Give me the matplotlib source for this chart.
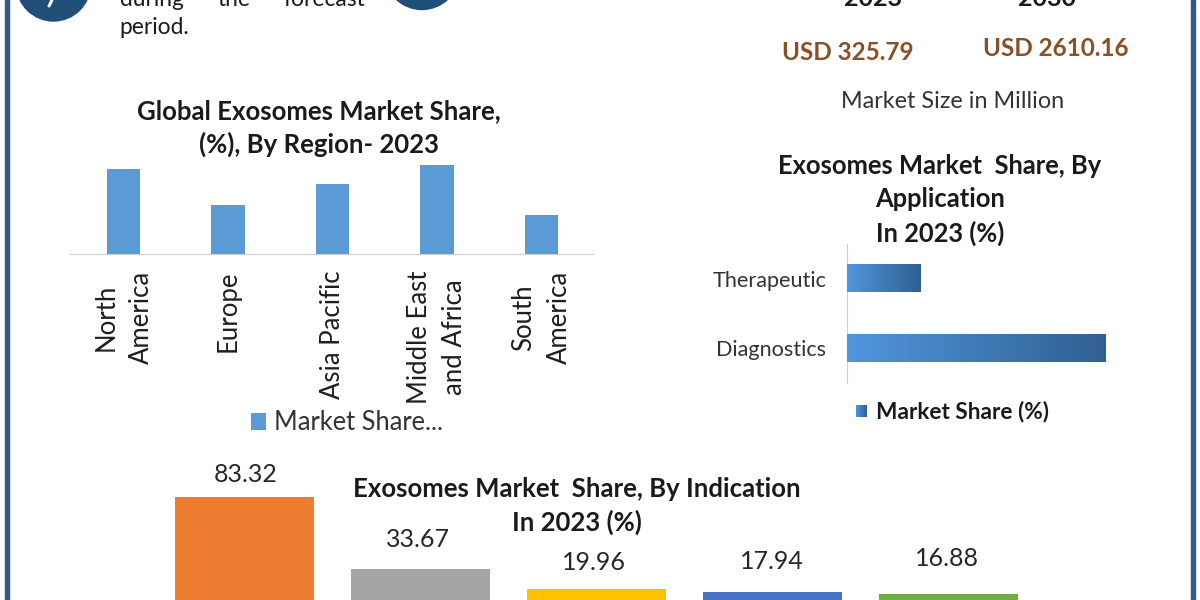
import matplotlib
matplotlib.use("Agg")
import matplotlib.pyplot as plt
import numpy as np
from matplotlib.colors import LinearSegmentedColormap
from matplotlib.patches import Circle, Rectangle

plt.rcParams['font.family'] = ['Lato', 'DejaVu Sans']

regions = ['North\nAmerica', 'Europe', 'Asia Pacific', 'Middle East\nand Africa', 'South\nAmerica']
region_share = [25.6, 14.8, 21.1, 26.8, 11.7]
applications = ['Diagnostics', 'Therapeutic']
application_share = [78, 22]
indication_values = [83.32, 33.67, 19.96, 17.94, 16.88]
indication_colors = ['#ED7D31', '#A5A5A5', '#FFC000', '#4472C4', '#70AD47']
size_years = ['2023', '2030']
size_values = ['USD 325.79', 'USD 2610.16']

W, H = 1200, 600
fig = plt.figure(figsize=(12, 6), dpi=100, facecolor='white')


def box(x0, y0, x1, y1, **kw):
    return fig.add_axes([x0 / W, 1 - y1 / H, (x1 - x0) / W, (y1 - y0) / H], **kw)


bg = box(0, 0, W, H)
bg.set_xlim(0, W)
bg.set_ylim(H, 0)
bg.axis('off')
frame = '#2F5B86'
bg.add_patch(Rectangle((5, 0), 3.5, H, color=frame))
bg.add_patch(Rectangle((1191, 0), 3.5, H, color=frame))
bg.add_patch(Circle((53.5, -16), 37, color='#1F4E79'))
bg.add_patch(Circle((422, -28), 37.5, color='#1F4E79'))
bg.plot([52.5, 49], [-1, 6], color='white', lw=2.2, solid_capstyle='round')

dark = '#1a1a1a'


def T(x, y, s, **kw):
    kw.setdefault('ha', 'center')
    kw.setdefault('va', 'center')
    kw.setdefault('color', dark)
    return bg.text(x, y, s, **kw)


T(120, 0, 'during', ha='left', fontsize=16.4)
T(218, 0, 'the', ha='left', fontsize=16.4)
T(284, 0, 'forecast', ha='left', fontsize=16.4)
T(119, 28, 'period.', ha='left', fontsize=16.4)
T(873, -2, size_years[0], fontsize=18, fontweight='bold')
T(1047, -2, size_years[1], fontsize=18, fontweight='bold')
T(848, 52, size_values[0], fontsize=17.5, fontweight='bold', color='#8A4F24')
T(1056, 49, size_values[1], fontsize=17.5, fontweight='bold', color='#8A4F24')
T(953, 101, 'Market Size in Million', fontsize=16.8, color='#333333')
T(319, 111, 'Global Exosomes Market Share,', fontsize=18.5, fontweight='bold')
T(319, 144, '(%), By Region- 2023', fontsize=18.5, fontweight='bold')
T(940, 166, 'Exosomes Market  Share, By', fontsize=18.4, fontweight='bold')
T(940, 199, 'Application', fontsize=18.4, fontweight='bold')
T(940, 233, 'In 2023 (%)', fontsize=18.4, fontweight='bold')

# Region chart
ax1 = box(70, 150, 593, 254)
ax1.patch.set_alpha(0)
bars = ax1.bar(range(len(regions)), region_share, width=0.32, color='#5B9BD5', label='Market Share...')
ax1.set_xlim(-0.51, 4.49)
ax1.set_ylim(0, 104 / 3.32)
ax1.set_yticks([])
for s in ['top', 'left', 'right']:
    ax1.spines[s].set_visible(False)
ax1.spines['bottom'].set_color('#D0D0D0')
ax1.set_xticks(range(len(regions)))
ax1.set_xticklabels(regions, rotation=90, ha='center', va='top', fontsize=18.5,
                    color='#1f1f1f', linespacing=1.52)
ax1.tick_params(axis='x', length=0, pad=12)
ax1.legend(loc='center left', bbox_to_anchor=((251 - 70) / 523, -169 / 104), frameon=False,
           fontsize=18.4, handlelength=0.6, handleheight=0.6, handletextpad=0.3,
           labelcolor='#333333', borderpad=0, borderaxespad=0)

# Application chart
cmap = LinearSegmentedColormap.from_list('g', ['#5196DE', '#2F6090'])
ax2 = box(847, 244, 1117, 383)
ax2.patch.set_alpha(0)
hb = ax2.barh(range(len(applications)), application_share, height=0.395, color='#4A86C5')
ax2.set_xlim(0, 270 / 3.32)
ax2.set_ylim(-0.5, 1.5)
grad = np.linspace(0, 1, 256).reshape(1, -1)
for p in hb:
    ax2.imshow(grad, extent=[p.get_x(), p.get_x() + p.get_width(), p.get_y(), p.get_y() + p.get_height()],
               aspect='auto', cmap=cmap, zorder=3)
ax2.set_xlim(0, 270 / 3.32)
ax2.set_ylim(-0.5, 1.5)
ax2.set_xticks([])
ax2.set_yticks(range(len(applications)))
ax2.set_yticklabels(applications, fontsize=15.6, color='#333333')
ax2.tick_params(axis='y', length=0, pad=15)
for s in ['top', 'bottom', 'right']:
    ax2.spines[s].set_visible(False)
ax2.spines['left'].set_color('#D0D0D0')
bg.imshow(grad, extent=[856, 867, 417, 405], aspect='auto', cmap=cmap, zorder=3)
bg.set_xlim(0, W)
bg.set_ylim(H, 0)
T(876, 411, 'Market Share (%)', ha='left', fontsize=16.3, fontweight='bold')

# Indication chart
scale = 1.45
ax3 = box(87, 450, 1105, 600)
ax3.patch.set_alpha(0)
x3 = np.arange(len(indication_values))
ax3.bar(x3, indication_values, width=139 / 176, color=indication_colors)
ax3.set_xlim((87 - 244.5) / 176, (1105 - 244.5) / 176)
base = (618 - 600) / scale
ax3.set_ylim(base, base + 150 / scale)
ax3.axis('off')
y_offsets = [23, 30, 26.5, 30, 35.5]
x_offsets = [1, -3, -3, -1, -2]
for x, v, oy, ox in zip(x3, indication_values, y_offsets, x_offsets):
    ax3.annotate(f'{v:.2f}', (x, v), xytext=(ox * 0.72, oy * 0.72), textcoords='offset points',
                 ha='center', va='center', fontsize=18, color='#262626')

T(577, 489, 'Exosomes Market  Share, By Indication', fontsize=18.5, fontweight='bold', zorder=5)
T(577, 522, 'In 2023 (%)', fontsize=18.5, fontweight='bold', zorder=5)
bg.set_zorder(5)
bg.patch.set_alpha(0)

fig.savefig('out.png', dpi=100)
